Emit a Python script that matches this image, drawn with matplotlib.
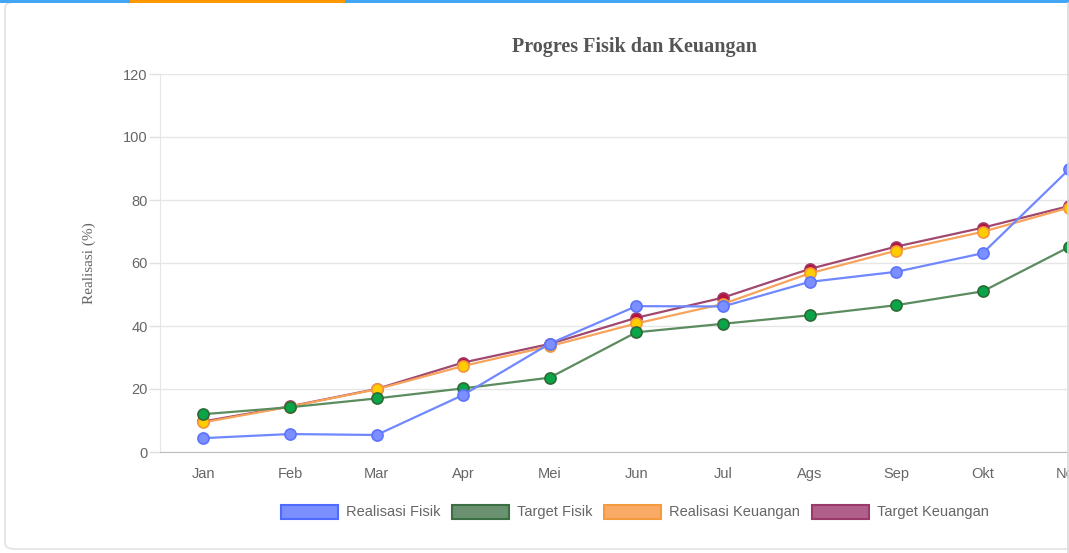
import matplotlib.pyplot as plt
from matplotlib.patches import Patch, FancyBboxPatch, Rectangle
from matplotlib.lines import Line2D

# data
months = ['Jan', 'Feb', 'Mar', 'Apr', 'Mei', 'Jun', 'Jul', 'Ags', 'Sep', 'Okt', 'Nov']
realisasi_fisik = [4.4, 5.7, 5.4, 18.1, 34.4, 46.3, 46.2, 54.0, 57.2, 63.1, 89.8]
target_fisik = [12.0, 14.2, 17.0, 20.2, 23.6, 38.0, 40.7, 43.4, 46.6, 51.0, 65.1]
realisasi_keuangan = [9.4, 14.4, 19.9, 27.3, 33.6, 40.8, 47.0, 56.7, 63.9, 69.9, 77.6]
target_keuangan = [9.7, 14.5, 20.0, 28.4, 34.3, 42.6, 49.0, 58.1, 65.2, 71.2, 78.1]
y_ticks = [0, 20, 40, 60, 80, 100, 120]

W, H = 1069, 553
fig = plt.figure(figsize=(W / 100, H / 100), dpi=100)
fig.patch.set_facecolor('white')

# card decoration (top colour bar, border)
fig.add_artist(FancyBboxPatch((5 / W, 4 / H), (W + 40) / W, (H - 6) / H,
                              boxstyle='round,pad=0,rounding_size=0.01',
                              transform=fig.transFigure, facecolor='white',
                              edgecolor='#e3e3e3', linewidth=1.2, zorder=0))
fig.add_artist(Rectangle((0, 1 - 3 / H), 1, 3 / H, transform=fig.transFigure,
                         facecolor='#42a5f5', edgecolor='none', zorder=1))
fig.add_artist(Rectangle((130 / W, 1 - 3 / H), 215 / W, 3 / H, transform=fig.transFigure,
                         facecolor='#ff9800', edgecolor='none', zorder=2))
fig.add_artist(Line2D([1067.5 / W, 1067.5 / W], [0, 1 - 3 / H], transform=fig.transFigure,
                      color='#d9d9d9', linewidth=1.2, zorder=5))

# axes: category spacing ~86.6px, right part of chart is cut off by the card
left, right = 160, 160 + 12 * 86.6
top, bottom = 74, 452
ax = fig.add_axes([left / W, 1 - bottom / H, (right - left) / W, (bottom - top) / H])
ax.set_facecolor('none')

x = list(range(len(months)))

series = [
    (realisasi_fisik, 'Realisasi Fisik', '#7088ff', '#7b8fff', '#5b73ff', '#7b8fff', '#4f6bff', 8),
    (target_fisik, 'Target Fisik', '#5b8c5f', '#0aa548', '#2d6a35', '#6a9270', '#3b6e42', 7),
    (realisasi_keuangan, 'Realisasi Keuangan', '#f7a35c', '#ffcc00', '#f5963c', '#f9ab66', '#f59a3f', 6),
    (target_keuangan, 'Target Keuangan', '#a04870', '#b5123e', '#a03a6a', '#b0608a', '#9a3a68', 5),
]

handles = []
for vals, name, lc, mfc, mec, lfc, lec, z in series:
    ax.plot(x, vals, color=lc, linewidth=1.6, marker='o', markersize=8,
            markerfacecolor=mfc, markeredgecolor=mec, markeredgewidth=1.2,
            zorder=z, clip_on=False)
    handles.append(Patch(facecolor=lfc, edgecolor=lec, linewidth=1.5, label=name))

ax.set_xlim(-0.5, 11.5)
ax.set_ylim(0, 120)
ax.set_xticks(x)
ax.set_xticklabels(months)
ax.set_yticks(y_ticks)

ax.grid(axis='y', color='#e6e6e6', linewidth=1)
ax.set_axisbelow(True)
for s in ['top', 'right']:
    ax.spines[s].set_visible(False)
ax.spines['left'].set_color('#e6e6e6')
ax.spines['bottom'].set_color('#bdbdbd')
ax.tick_params(axis='y', colors='#e0e0e0', labelcolor='#666666', length=8, width=1, pad=1,
               labelsize=10.5)
ax.tick_params(axis='x', length=0, labelcolor='#666666', pad=11, labelsize=10.5)
for lab in ax.get_xticklabels() + ax.get_yticklabels():
    lab.set_fontfamily('Liberation Sans')

fig.text(635 / W, 1 - 47 / H, 'Progres Fisik dan Keuangan', ha='center', va='center',
         family='Liberation Serif', fontweight='bold', fontsize=14.5, color='#555555')
fig.text(89 / W, 1 - 263 / H, 'Realisasi (%)', ha='center', va='center', rotation=90,
         family='Liberation Serif', fontsize=11, color='#666666')

fig.legend(handles=handles, loc='center', bbox_to_anchor=(635 / W, 1 - 512 / H), ncol=4,
           frameon=False, handlelength=3.9, handleheight=1.1, handletextpad=0.55,
           columnspacing=0.8, prop={'family': 'Liberation Sans', 'size': 10.5},
           labelcolor='#666666')

fig.savefig('out.png', dpi=100)
